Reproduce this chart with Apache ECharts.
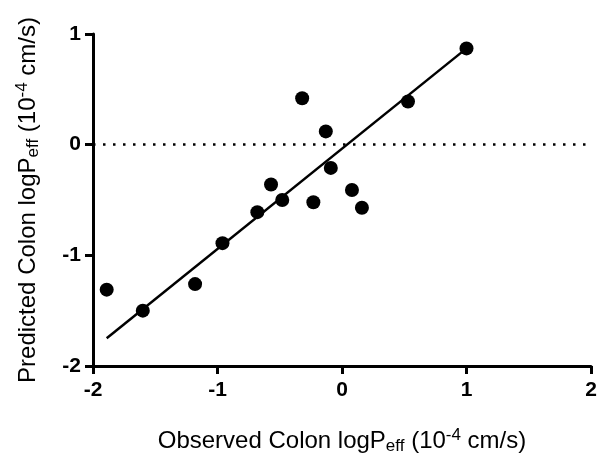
<!DOCTYPE html>
<html>
<head>
<meta charset="utf-8">
<script src="https://cdn.jsdelivr.net/npm/echarts@6/dist/echarts.min.js"></script>
<style>
  html, body { margin: 0; padding: 0; background: #fff; }
  #chart { width: 598px; height: 453px; }
</style>
</head>
<body>
<div id="chart"></div>
<script>
// observed vs predicted colon logPeff
const observed = [-1.89, -1.60, -1.18, -0.96, -0.68, -0.57, -0.48, -0.32, -0.23, -0.13, -0.09, 0.08, 0.16, 0.53, 1.00];
const predicted = [-1.31, -1.50, -1.26, -0.89, -0.61, -0.36, -0.50, 0.42, -0.52, 0.12, -0.21, -0.41, -0.57, 0.39, 0.87];
// fitted line end points
const fitX = [-1.89, 1.00];
const fitY = [-1.75, 0.87];
const xTicks = [-2, -1, 0, 1, 2];
const yTicks = [-2, -1, 0, 1];

const points = observed.map((x, i) => [x, predicted[i]]);
const fitLine = fitX.map((x, i) => [x, fitY[i]]);

const font = "'Liberation Sans', Arial, sans-serif";
const titleRich = {
  t: { fontSize: 24, fontFamily: font, color: "#000" },
  sub: { fontSize: 17, fontFamily: font, color: "#000", padding: [11, 0, 0, 0] },
  sup: { fontSize: 17, fontFamily: font, color: "#000", padding: [0, 0, 11, 0] }
};

const chart = echarts.init(document.getElementById("chart"));
chart.setOption({
  animation: false,
  grid: { left: 93, right: 7, top: 34, bottom: 87, containLabel: false, outerBoundsMode: "none" },
  xAxis: {
    type: "value",
    min: -2, max: 2, interval: 1,
    name: "{t|Observed Colon logP}{sub|eff}{t| (10}{sup|-4}{t| cm/s)}",
    nameLocation: "middle",
    nameGap: 61,
    nameTextStyle: { rich: titleRich },
    axisLine: { onZero: false, lineStyle: { color: "#000", width: 3 } },
    axisTick: { show: true, length: 8, lineStyle: { color: "#000", width: 3 } },
    axisLabel: {
      margin: 14, color: "#000", fontSize: 21, fontWeight: "bold", fontFamily: font,
      formatter: v => xTicks.includes(v) ? String(v) : ""
    },
    splitLine: { show: false }
  },
  yAxis: {
    type: "value",
    min: -2, max: 1, interval: 1,
    name: "{t|Predicted Colon logP}{sub|eff}{t| (10}{sup|-4}{t| cm/s)}",
    nameLocation: "middle",
    nameGap: 51,
    nameTextStyle: { rich: titleRich },
    axisLine: { onZero: false, lineStyle: { color: "#000", width: 3 } },
    axisTick: { show: true, length: 8, lineStyle: { color: "#000", width: 3 } },
    axisLabel: {
      margin: 12, color: "#000", fontSize: 21, fontWeight: "bold", fontFamily: font,
      formatter: v => yTicks.includes(v) ? String(v) : ""
    },
    splitLine: { show: false }
  },
  series: [
    {
      type: "line",
      data: fitLine,
      showSymbol: false,
      symbol: "none",
      lineStyle: { color: "#000", width: 2.5 },
      markLine: {
        silent: true,
        symbol: "none",
        label: { show: false },
        lineStyle: { color: "#000", width: 2.5, type: [2.5, 7.5] },
        data: [{ yAxis: 0 }]
      },
      z: 2
    },
    {
      type: "scatter",
      data: points,
      symbol: "circle",
      symbolSize: 14,
      itemStyle: { color: "#000", opacity: 1 },
      z: 3
    }
  ]
});
</script>
</body>
</html>
